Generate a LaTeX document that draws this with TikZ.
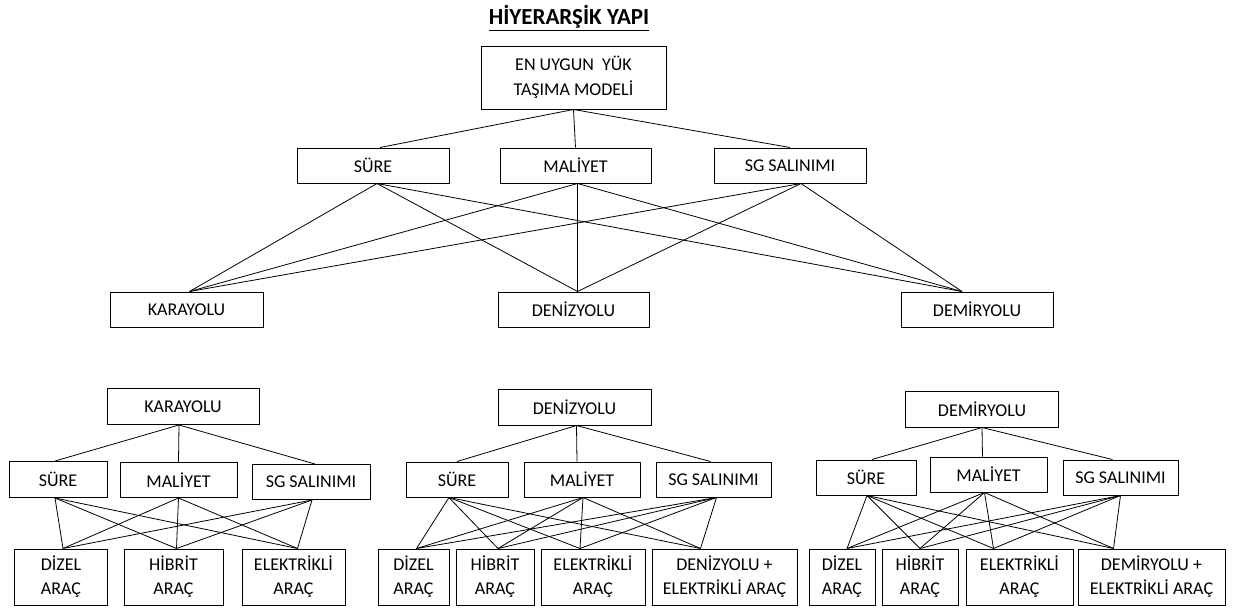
\documentclass[tikz,border=0pt]{standalone}
\usepackage{fontspec}
\setmainfont{Carlito}
\usetikzlibrary{calc}
\begin{document}
\begin{tikzpicture}[x=1pt,y=-1pt,
  box/.style={draw, line width=1pt, inner sep=0pt, align=center, font=\fontsize{18}{24}\selectfont},
  link/.style={line width=0.8pt}]
\useasboundingbox[fill=white] (0,0) rectangle (1235,608);
\node (title) at (569,18) {\fontsize{23}{28}\selectfont\bfseries\underline{HİYERARŞİK YAPI}};
% top hierarchy
\node[box, minimum width=185, minimum height=63, font=\fontsize{18}{25}\selectfont] (goal) at (573.5,77.5) {EN UYGUN\ \ YÜK\\TAŞIMA MODELİ};
\node[box, minimum width=152, minimum height=35] (c1) at (373,165.5) {SÜRE};
\node[box, minimum width=151, minimum height=35] (c2) at (575.5,165.5) {MALİYET};
\node[box, minimum width=152, minimum height=35] (c3) at (790,165.5) {SG SALINIMI};
\node[box, minimum width=153, minimum height=35] (a1) at (186.5,309.5) {KARAYOLU};
\node[box, minimum width=151, minimum height=35] (a2) at (573.5,309.5) {DENİZYOLU};
\node[box, minimum width=152, minimum height=35] (a3) at (977,309.5) {DEMİRYOLU};
\draw[link] (goal.south) -- ($(c1.north)+(7,0)$);
\draw[link] (goal.south) -- (c2.north);
\draw[link] (goal.south) -- (c3.north);
\foreach \s/\sx in {c1/4,c2/2,c3/11}
  \foreach \t/\tx in {a1/3,a2/4,a3/-15}
    \draw[link] ($(\s.south)+(\sx,0)$) -- ($(\t.north)+(\tx,0)$);
% group 1: karayolu
\node[box, minimum width=152, minimum height=36] (k0) at (183,406.5) {KARAYOLU};
\node[box, minimum width=98, minimum height=36] (k1) at (58,479.5) {SÜRE};
\node[box, minimum width=117, minimum height=35] (k2) at (178.5,480) {MALİYET};
\node[box, minimum width=118, minimum height=35] (k3) at (311,482) {SG SALINIMI};
\node[box, minimum width=93, minimum height=56] (k4) at (61,577) {DİZEL\\ARAÇ};
\node[box, minimum width=99, minimum height=56] (k5) at (173.5,577) {HİBRİT\\ARAÇ};
\node[box, minimum width=103, minimum height=56] (k6) at (293.5,577) {ELEKTRİKLİ\\ARAÇ};
\draw[link] ($(k0.south)+(-4,0)$) -- ($(k1.north)+(-3,0)$);
\draw[link] ($(k0.south)+(-4,0)$) -- (k2.north);
\draw[link] ($(k0.south)+(-4,0)$) -- ($(k3.north)+(4,0)$);
\foreach \s/\sx in {k1/-3,k2/0,k3/1}
  \foreach \t/\tx in {k4/2,k5/3,k6/4}
    \draw[link] ($(\s.south)+(\sx,0)$) -- ($(\t.north)+(\tx,0)$);
% group 2: denizyolu
\node[box, minimum width=153, minimum height=36] (d0) at (574.5,407) {DENİZYOLU};
\node[box, minimum width=102, minimum height=35] (d1) at (457,479.5) {SÜRE};
\node[box, minimum width=116, minimum height=35] (d2) at (582,479.5) {MALİYET};
\node[box, minimum width=115, minimum height=35] (d3) at (713.5,479.5) {SG SALINIMI};
\node[box, minimum width=71, minimum height=56] (d4) at (413.5,577) {DİZEL\\ARAÇ};
\node[box, minimum width=78, minimum height=56] (d5) at (495,577) {HİBRİT\\ARAÇ};
\node[box, minimum width=104, minimum height=56] (d6) at (593,577) {ELEKTRİKLİ\\ARAÇ};
\node[box, minimum width=145, minimum height=56] (d7) at (724.5,577) {DENİZYOLU +\\ELEKTRİKLİ ARAÇ};
\draw[link] ($(d0.south)+(2,0)$) -- (d1.north);
\draw[link] ($(d0.south)+(2,0)$) -- ($(d2.north)+(-5,0)$);
\draw[link] ($(d0.south)+(2,0)$) -- ($(d3.north)+(-3,0)$);
\foreach \s/\sx in {d1/-8,d2/1,d3/3}
  \foreach \t/\tx in {d4/3,d5/3,d6/-13,d7/-24}
    \draw[link] ($(\s.south)+(\sx,0)$) -- ($(\t.north)+(\tx,0)$);
% group 3: demiryolu
\node[box, minimum width=153, minimum height=36] (r0) at (982,409) {DEMİRYOLU};
\node[box, minimum width=100, minimum height=35] (r1) at (866,477.5) {SÜRE};
\node[box, minimum width=117, minimum height=35] (r2) at (988.5,474.5) {MALİYET};
\node[box, minimum width=115, minimum height=35] (r3) at (1120.5,477.5) {SG SALINIMI};
\node[box, minimum width=66, minimum height=56] (r4) at (842,577) {DİZEL\\ARAÇ};
\node[box, minimum width=76, minimum height=56] (r5) at (920,577) {HİBRİT\\ARAÇ};
\node[box, minimum width=107, minimum height=56] (r6) at (1019.5,577) {ELEKTRİKLİ\\ARAÇ};
\node[box, minimum width=147, minimum height=56] (r7) at (1151.5,577) {DEMİRYOLU +\\ELEKTRİKLİ ARAÇ};
\draw[link] (r0.south) -- ($(r1.north)+(6,0)$);
\draw[link] (r0.south) -- ($(r2.north)+(-6,0)$);
\draw[link] (r0.south) -- ($(r3.north)+(-8,0)$);
\foreach \s/\sx in {r1/1,r2/-4,r3/0}
  \foreach \t/\tx in {r4/5,r5/0,r6/-26,r7/-38}
    \draw[link] ($(\s.south)+(\sx,0)$) -- ($(\t.north)+(\tx,0)$);
\end{tikzpicture}
\end{document}
